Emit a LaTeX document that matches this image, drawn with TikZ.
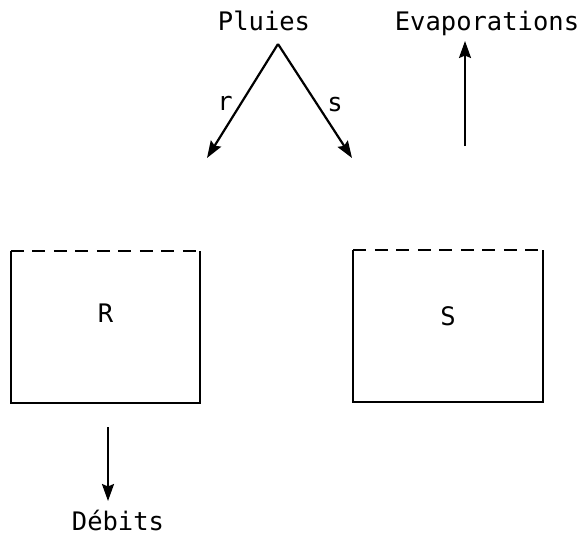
\documentclass[tikz,border=0pt]{standalone}
\usepackage{fontspec}
\setmonofont{DejaVu Sans Mono}
\usetikzlibrary{arrows.meta}
\begin{document}
\begin{tikzpicture}[x=1pt,y=-1pt,
  label text/.style={font=\ttfamily\fontsize{25.5}{30}\selectfont, inner sep=0pt, anchor=base},
  flow/.style={line width=2.2pt, -{Stealth[length=17pt,width=12pt,inset=2.5pt]}},
  wall/.style={line width=2.2pt, line join=miter},
  surface/.style={line width=2.2pt, dash pattern=on 13pt off 8.5pt},
  reservoir/.style={minimum width=189pt, minimum height=152pt, inner sep=0pt}]
  \useasboundingbox (0,0) rectangle (583,536);

  % inputs and outputs
  \node[label text] (pluies) at (264,30) {Pluies};
  \node[label text] (evap) at (487,30) {Evaporations};
  \node[label text] (debits) at (118,530) {Débits};

  % the two reservoirs, open at the top
  \node[reservoir] (R) at (105.5,327) {};
  \node[reservoir] (S) at (448,326) {};
  \node[label text] (Rlab) at (R.center |- 0,322) {R};
  \node[label text] (Slab) at (S.center |- 0,325) {S};
  \foreach \b in {R,S} {
    \draw[wall] (\b.north west) -- (\b.south west) -- (\b.south east) -- (\b.north east);
    \draw[surface] (\b.north west) -- (\b.north east);
  }

  % rainfall split into r and s
  \coordinate (apex) at (278,44);
  \coordinate (rtip) at (207,158);
  \coordinate (stip) at (352,158);
  \draw[flow] (apex) -- (rtip);
  \draw[flow] (apex) -- (stip);
  \node[label text] (rlab) at (225,110) {r};
  \node[label text] (slab) at (335,111) {s};

  % evaporation from S
  \coordinate (evapfoot) at (465,146);
  \coordinate (evaptip) at (465,41);
  \draw[flow] (evapfoot) -- (evaptip);

  % discharge from R
  \coordinate (debtop) at (108,427);
  \coordinate (debtip) at (108,501);
  \draw[flow] (debtop) -- (debtip);
\end{tikzpicture}
\end{document}
